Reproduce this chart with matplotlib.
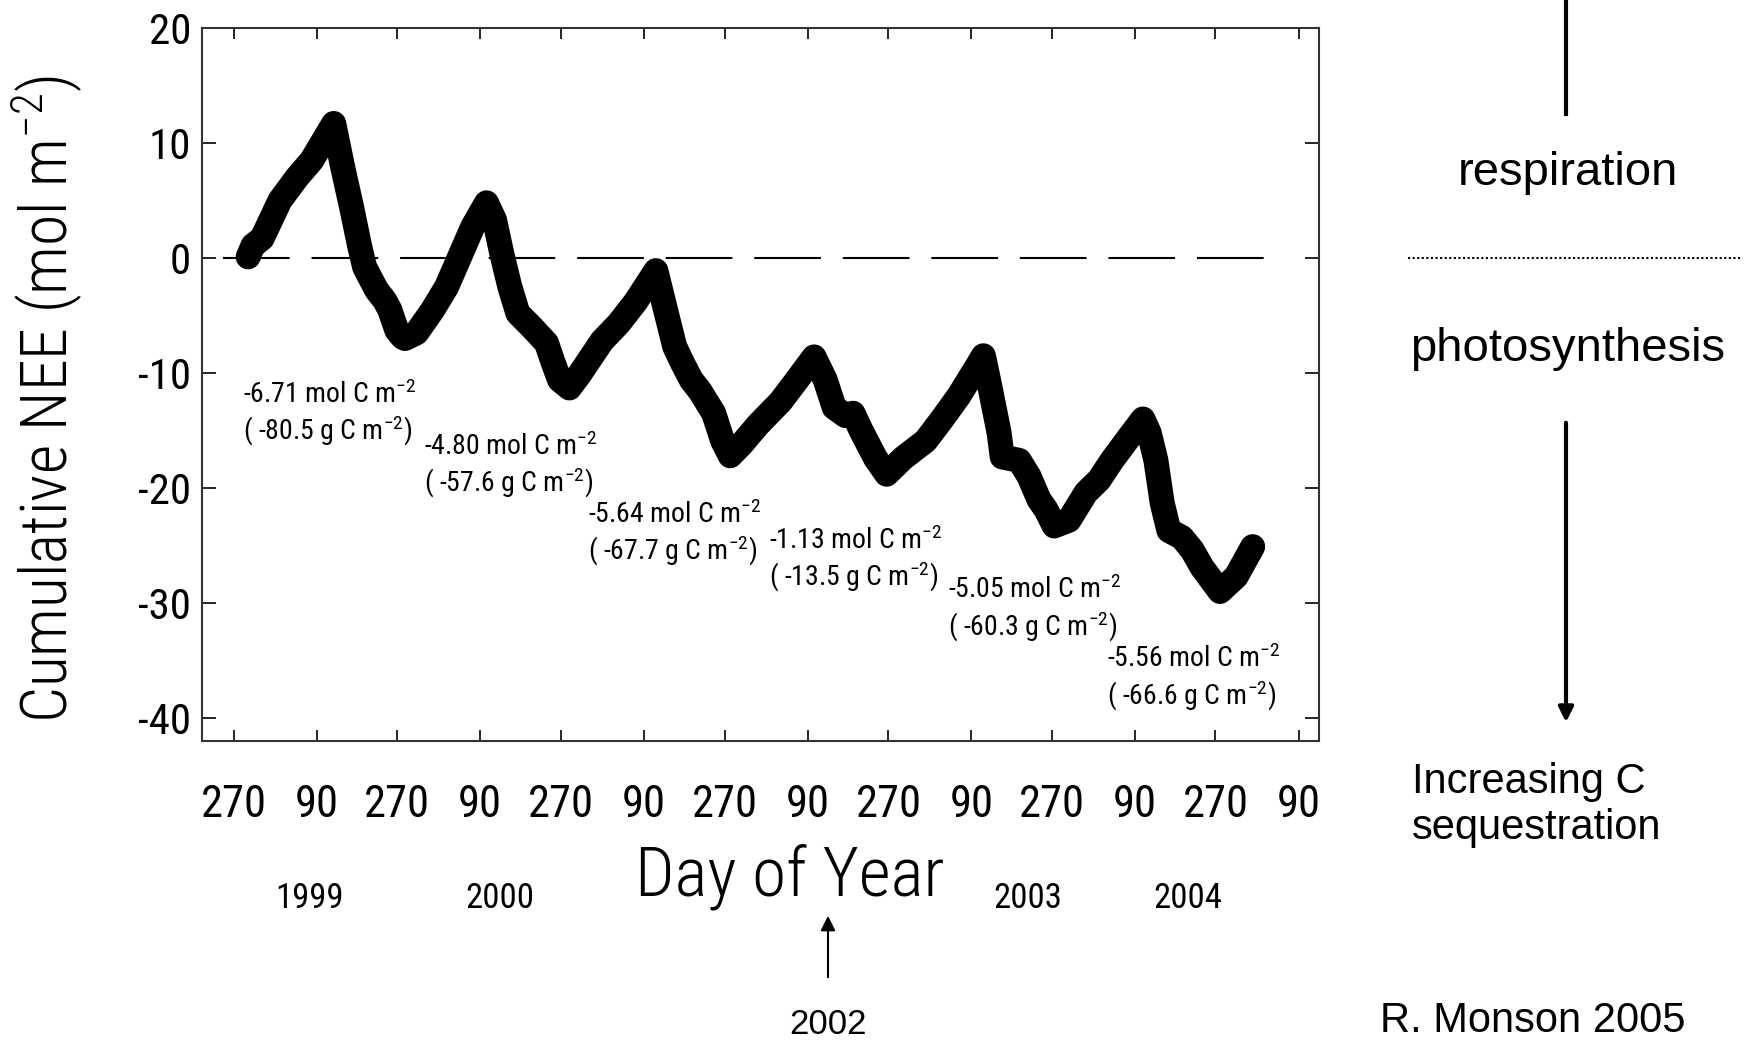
import matplotlib
matplotlib.use('Agg')
import matplotlib.pyplot as plt
import numpy as np

# cumulative NEE trace, x = days since 1 Jan 1998
day = [301, 312, 332, 372, 410, 443, 492, 512, 532, 550, 561, 588, 606, 617, 633, 646, 651,
       677, 713, 744, 773, 802, 833, 851, 867, 885, 903, 936, 967, 980, 996, 1018,
       1041, 1091, 1128, 1166, 1191, 1211, 1228, 1253, 1270, 1290, 1310, 1340, 1360, 1377,
       1402, 1439, 1489, 1526, 1564, 1589, 1609, 1634, 1651, 1669, 1701, 1726,
       1763, 1813, 1850, 1887, 1925, 1942, 1955, 1977, 1984, 2022, 2044, 2066, 2082, 2100,
       2133, 2171, 2200, 2229, 2267, 2298, 2312, 2327, 2341, 2356, 2385, 2408, 2430, 2470,
       2506, 2543]
nee = [0.1, 1.1, 1.7, 5.0, 7.0, 8.5, 11.7, 7.9, 4.4, 1.0, -0.8, -2.8, -3.7, -4.5, -6.3, -6.9, -7.0,
       -6.5, -4.5, -2.5, 0.1, 2.7, 4.8, 3.3, 0.4, -2.5, -4.8, -6.1, -7.4, -8.9, -10.6, -11.3,
       -10.1, -7.2, -5.7, -3.8, -2.3, -1.1, -3.8, -7.7, -9.1, -10.6, -11.6, -13.5, -15.9, -17.2,
       -16.2, -14.5, -12.5, -10.6, -8.6, -10.6, -13.0, -13.7, -13.5, -15.0, -17.4, -18.8,
       -17.4, -15.9, -14.0, -12.0, -9.6, -8.5, -10.9, -15.2, -17.3, -17.6, -19.0, -21.0, -21.9, -23.3,
       -22.8, -20.4, -19.3, -17.6, -15.6, -14.0, -15.2, -17.6, -21.3, -23.7, -24.3, -25.4, -26.9, -29.0,
       -27.7, -25.1]

tick_years = [1998, 1999, 1999, 2000, 2000, 2001, 2001, 2002, 2002, 2003, 2003, 2004, 2004, 2005]
tick_doy = [270, 90, 270, 90, 270, 90, 270, 90, 270, 90, 270, 90, 270, 90]
yticks = [20, 10, 0, -10, -20, -30, -40]

mol_labels = ['-6.71', '-4.80', '-5.64', '-1.13', '-5.05', '-5.56']
g_labels = ['-80.5', '-57.6', '-67.7', '-13.5', '-60.3', '-66.6']
label_day = [290, 693, 1059, 1464, 1862, 2218]
label_nee = [-12.6, -17.1, -23.0, -25.3, -29.6, -35.6]

year_names = ['1999', '2000', '2003', '2004']
year_px = [310, 500, 1028, 1188]

narrow = ['Roboto Condensed', 'Archivo Narrow', 'Liberation Sans Narrow', 'Liberation Sans', 'DejaVu Sans']
wide = ['Liberation Sans', 'DejaVu Sans']
plt.rcParams['font.family'] = narrow
plt.rcParams['mathtext.default'] = 'regular'
plt.rcParams['axes.unicode_minus'] = False

W, H = 1750, 1047
fig = plt.figure(figsize=(W / 100, H / 100), dpi=100)
ax = fig.add_axes([202 / W, 1 - 741 / H, (1319 - 202) / W, (741 - 28) / H])


def fx(px):
    return px / W


def fy(py):
    return 1 - py / H


start = np.datetime64('1998-01-01')
xticks = [int((np.datetime64('%d-01-01' % y) - start).astype(int)) + d - 1
          for y, d in zip(tick_years, tick_doy)]

ax.plot([245, 2584], [0, 0], color='black', lw=1.5, dashes=(32, 10.5))
ax.plot(day, nee, color='black', lw=18, solid_capstyle='round', solid_joinstyle='round')

for m, g, x, y in zip(mol_labels, g_labels, label_day, label_nee):
    ax.text(x, y, m + ' mol C m$^{-2}$', fontsize=20, ha='left', va='baseline')
    ax.text(x, y - 3.2, '( ' + g + ' g C m$^{-2}$)', fontsize=20, ha='left', va='baseline')

ax.set_xlim(198, 2691)
ax.set_ylim(-42, 20)
ax.set_xticks(xticks)
ax.set_xticklabels([str(d) for d in tick_doy])
ax.set_yticks(yticks)
ax.tick_params(axis='x', direction='in', top=True, length=8, width=1.2, labelsize=32, pad=31)
ax.tick_params(axis='y', direction='in', right=True, length=10, width=1.2, labelsize=31, pad=8)
for s in ax.spines.values():
    s.set_linewidth(1.5)
    s.set_color('#333333')

fig.text(fx(47), fy(399), 'Cumulative NEE (mol m$^{-2}$)', rotation=90, fontsize=46,
         ha='center', va='center', fontweight='light')
fig.text(fx(790), fy(896), 'Day of Year', fontsize=50, ha='center', va='baseline',
         fontweight='light')
for name, px in zip(year_names, year_px):
    fig.text(fx(px), fy(898), name, fontsize=25, ha='center', va='center')

fig.text(fx(828), fy(1024), '2002', fontsize=25, ha='center', va='center', family=wide)
fig.add_artist(matplotlib.patches.FancyArrowPatch((fx(828), fy(980)), (fx(828), fy(913)),
                                                  transform=fig.transFigure, arrowstyle='-|>',
                                                  mutation_scale=22, lw=1.5, color='black'))

# right-hand legend
fig.add_artist(plt.Line2D([fx(1566), fx(1566)], [fy(0), fy(114)], color='black', lw=3))
fig.text(fx(1568), fy(173), 'respiration', fontsize=34, ha='center', va='center', family=wide)
fig.add_artist(plt.Line2D([fx(1408), fx(1741)], [fy(258), fy(258)], color='black', lw=1.5,
                          linestyle=(0, (1, 1.2))))
fig.text(fx(1568), fy(349), 'photosynthesis', fontsize=34, ha='center', va='center', family=wide)
fig.add_artist(matplotlib.patches.FancyArrowPatch((fx(1566), fy(420)), (fx(1566), fy(725)),
                                                  transform=fig.transFigure, arrowstyle='-|>',
                                                  mutation_scale=22, lw=3, color='black'))
fig.text(fx(1412), fy(805), 'Increasing C\nsequestration', fontsize=30, ha='left', va='center',
         family=wide, linespacing=1.2)
fig.text(fx(1380), fy(1021), 'R. Monson 2005', fontsize=30, ha='left', va='center', family=wide)

fig.savefig('out.png', dpi=100)
